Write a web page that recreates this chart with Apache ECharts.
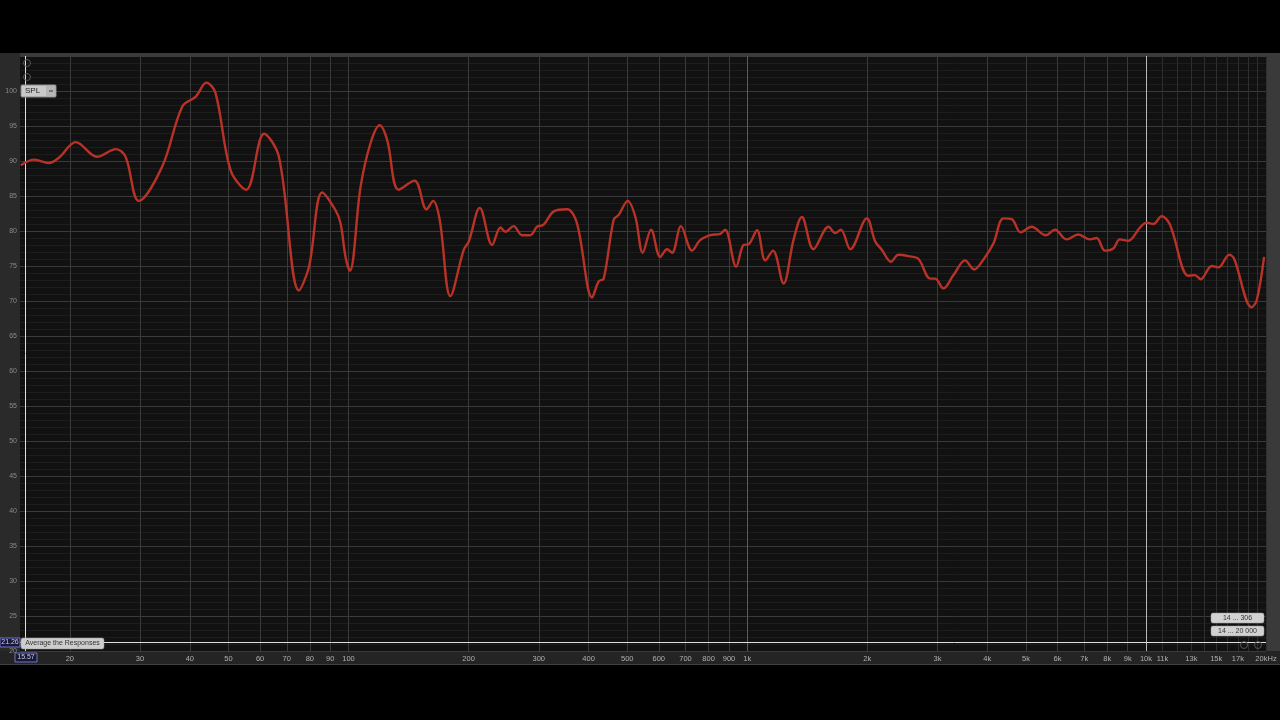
<!DOCTYPE html>
<html>
<head>
<meta charset="utf-8">
<script src="https://cdn.jsdelivr.net/npm/echarts@6/dist/echarts.min.js"></script>
<style>
html,body{margin:0;padding:0;background:#000;}
#chart{width:1280px;height:720px;}
</style>
</head>
<body>
<div id="chart"></div>
<script>
// ---- data (frequency in Hz, level in dB SPL) ----
const freqHz = [15.07,16.3,17.7,18.8,20.7,23.4,26.1,27.6,29.8,34.1,38.3,41.4,44.0,46.4,50.6,55.4,61.4,66.9,75.1,79.6,85.9,92.7,95.5,98.3,100.8,107.2,113.5,119.7,125.0,133.6,146.4,156.9,163.0,169.3,180.1,194.5,200.3,213.4,229.2,240.5,247.4,259.5,272.4,285.8,297.0,308.6,327.2,353.3,374.1,408.3,424.1,436.5,462.4,476.0,501.4,524.2,546.9,573.8,605,629.5,648,682,727,762,808,856,880,938,979,1008,1058,1110,1160,1233,1306,1371,1466,1599,1662,1717,1813,1995,2094,2177,2293,2395,2537,2689,2876,2960,3105,3290,3519,3707,3910,4143,4389,4604,4849,5167,5610,5910,6325,6765,7237,7520,7890,8280,8600,9030,9660,10040,10430,10950,11490,12770,13270,13710,14620,15190,16180,16620,18410,18960,19780];
const splDb  = [89.4,90.2,89.7,90.5,92.7,90.6,91.7,90.6,84.3,89.2,97.8,99.2,101.2,99.7,88.7,85.9,93.9,90.6,71.5,74.9,85.5,83.0,81.1,76.3,74.3,86.3,92.5,95.1,93.0,85.9,87.2,83.1,84.3,81.6,70.7,77.3,78.5,83.3,78.0,80.5,79.9,80.7,79.4,79.4,80.6,80.9,82.8,83.1,81.1,70.5,72.8,73.2,81.6,82.3,84.3,82.0,76.9,80.2,76.3,77.4,76.9,80.7,77.2,78.7,79.4,79.6,80.2,74.9,78.0,78.1,80.1,75.8,77.2,72.5,78.7,82.0,77.4,80.6,79.7,80.2,77.4,81.8,78.5,77.3,75.6,76.6,76.4,76.0,73.2,73.2,71.8,73.7,75.8,74.5,75.9,78.2,81.8,81.7,79.8,80.6,79.4,80.2,78.8,79.5,78.8,79.0,77.2,77.5,78.8,78.6,80.5,81.2,81.0,82.1,80.9,73.6,73.7,73.1,75.0,74.8,76.6,76.1,69.1,70.1,76.3];

// vertical grid lines (Hz)
const gridHz = [20,30,40,50,60,70,80,90,100,200,300,400,500,600,700,800,900,1000,2000,3000,4000,5000,6000,7000,8000,9000,10000,11000,12000,13000,14000,15000,16000,17000,18000,19000,20000];
// x tick labels
const xLabelHz   = [20,30,40,50,60,70,80,90,100,200,300,400,500,600,700,800,900,1000,2000,3000,4000,5000,6000,7000,8000,9000,10000,11000,13000,15000,17000,20000];
const xLabelText = ['20','30','40','50','60','70','80','90','100','200','300','400','500','600','700','800','900','1k','2k','3k','4k','5k','6k','7k','8k','9k','10k','11k','13k','15k','17k','20kHz'];
// axis range
const xMinHz = 15, xMaxHz = 20000;
const yMin = 20, yMax = 105, yStep = 5;
// cursor
const cursorHz = 15.57, cursorDb = 21.26;

const lg = v => Math.log10(v);
const lineData = freqHz.map((f, i) => [lg(f), splDb[i]]);
const labelMap = {};
xLabelHz.forEach((f, i) => { labelMap[lg(f).toFixed(5)] = xLabelText[i]; });
const gridColors = gridHz.map(f => f === 10000 ? '#b8b8b8' : (f === 1000 ? '#5c5c5c' : (f > 10000 ? '#2e2e2e' : '#3a3a3a')));

const chart = echarts.init(document.getElementById('chart'), null, {renderer: 'canvas'});
const ff = 'Liberation Sans, Arial, sans-serif';

chart.setOption({
  backgroundColor: '#000',
  animation: false,
  grid: {left: 20, right: 14, top: 56, bottom: 69, show: true, backgroundColor: '#111111', borderWidth: 0},
  xAxis: {
    type: 'value', min: lg(xMinHz), max: lg(xMaxHz),
    axisLine: {show: false},
    axisTick: {show: false, customValues: gridHz.map(lg)},
    axisLabel: {
      customValues: xLabelHz.map(lg),
      formatter: v => labelMap[v.toFixed(5)] || '',
      color: '#b0b0b0', fontSize: 7.5, fontFamily: ff, margin: 4, hideOverlap: false
    },
    splitLine: {show: true, lineStyle: {color: gridColors, width: 1}}
  },
  yAxis: {
    type: 'value', min: yMin, max: yMax, interval: yStep,
    axisLine: {show: false}, axisTick: {show: false},
    axisLabel: {color: '#8a8a8a', fontSize: 7, fontFamily: ff, margin: 3,
      formatter: v => v > 100 ? '' : String(v)},
    splitLine: {show: true, lineStyle: {color: '#3a3a3a', width: 1}},
    minorTick: {show: false, splitNumber: 5},
    minorSplitLine: {show: true, lineStyle: {color: '#1d1d1d', width: 1}}
  },
  series: [{
    type: 'line', data: lineData, showSymbol: false, smooth: 0.35,
    lineStyle: {color: '#b93227', width: 2.4},
    z: 5,
    markLine: {
      silent: true, symbol: 'none', animation: false,
      label: {show: false},
      lineStyle: {color: '#e0e0e0', width: 1, type: 'solid'},
      data: [{xAxis: lg(cursorHz)}, {yAxis: cursorDb}]
    }
  }],
  graphic: [
    // frame panels
    {type: 'rect', z: -10, shape: {x: 0, y: 53, width: 1280, height: 3}, style: {fill: '#3a3a3a'}},
    {type: 'rect', z: -10, shape: {x: 0, y: 53, width: 20, height: 612}, style: {fill: '#2a2a2a'}},
    {type: 'rect', z: -10, shape: {x: 1266, y: 53, width: 14, height: 612}, style: {fill: '#3a3a3a'}},
    {type: 'rect', z: -10, shape: {x: 0, y: 651, width: 1280, height: 14}, style: {fill: '#242424'}},
    {type: 'rect', z: -10, shape: {x: 0, y: 664, width: 1280, height: 1}, style: {fill: '#404040'}},
    // zoom icons top-left
    {type: 'circle', z: 20, shape: {cx: 27, cy: 63, r: 3.5}, style: {fill: 'none', stroke: '#555', lineWidth: 1}},
    {type: 'circle', z: 20, shape: {cx: 27, cy: 77, r: 3.5}, style: {fill: 'none', stroke: '#555', lineWidth: 1}},
    // SPL dropdown
    {type: 'rect', z: 20, shape: {x: 21, y: 85, width: 35, height: 12, r: 1}, style: {fill: '#c9c9c9', stroke: '#8a8a8a', lineWidth: 1}},
    {type: 'rect', z: 21, shape: {x: 46, y: 86, width: 9, height: 10}, style: {fill: '#b5b5b5'}},
    {type: 'rect', z: 22, shape: {x: 49, y: 90.5, width: 4, height: 1}, style: {fill: '#333'}},
    {type: 'text', z: 22, x: 25, y: 91, style: {text: 'SPL', fill: '#222', font: '8px ' + ff, textVerticalAlign: 'middle'}},
    // cursor value boxes
    {type: 'rect', z: 20, shape: {x: 0, y: 638, width: 20, height: 9}, style: {fill: '#181838', stroke: '#7070c8', lineWidth: 1}},
    {type: 'text', z: 21, x: 10, y: 642.5, style: {text: '21.26', fill: '#c8c8e0', font: '7px ' + ff, textAlign: 'center', textVerticalAlign: 'middle'}},
    {type: 'rect', z: 20, shape: {x: 15, y: 653, width: 22, height: 9}, style: {fill: '#181838', stroke: '#7070c8', lineWidth: 1}},
    {type: 'text', z: 21, x: 26, y: 657.5, style: {text: '15.57', fill: '#c8c8e0', font: '7px ' + ff, textAlign: 'center', textVerticalAlign: 'middle'}},
    // tooltip
    {type: 'rect', z: 20, shape: {x: 21, y: 638, width: 83, height: 11, r: 2}, style: {fill: '#cdcdcd', stroke: '#999', lineWidth: 0.5}},
    {type: 'text', z: 21, x: 62.5, y: 643.5, style: {text: 'Average the Responses', fill: '#333', font: '7px ' + ff, textAlign: 'center', textVerticalAlign: 'middle'}},
    // bottom-right range boxes
    {type: 'rect', z: 20, shape: {x: 1211, y: 613, width: 53, height: 10, r: 2}, style: {fill: '#d2d2d2', stroke: '#999', lineWidth: 0.5}},
    {type: 'text', z: 21, x: 1237.5, y: 618, style: {text: '14 ... 306', fill: '#333', font: '7px ' + ff, textAlign: 'center', textVerticalAlign: 'middle'}},
    {type: 'rect', z: 20, shape: {x: 1211, y: 626, width: 53, height: 10, r: 2}, style: {fill: '#d2d2d2', stroke: '#999', lineWidth: 0.5}},
    {type: 'text', z: 21, x: 1237.5, y: 631, style: {text: '14 ... 20 000', fill: '#333', font: '7px ' + ff, textAlign: 'center', textVerticalAlign: 'middle'}},
    {type: 'circle', z: 20, shape: {cx: 1244, cy: 645, r: 3.5}, style: {fill: 'none', stroke: '#555', lineWidth: 1}},
    {type: 'circle', z: 20, shape: {cx: 1258, cy: 645, r: 3.5}, style: {fill: 'none', stroke: '#555', lineWidth: 1}}
  ]
});
</script>
</body>
</html>
